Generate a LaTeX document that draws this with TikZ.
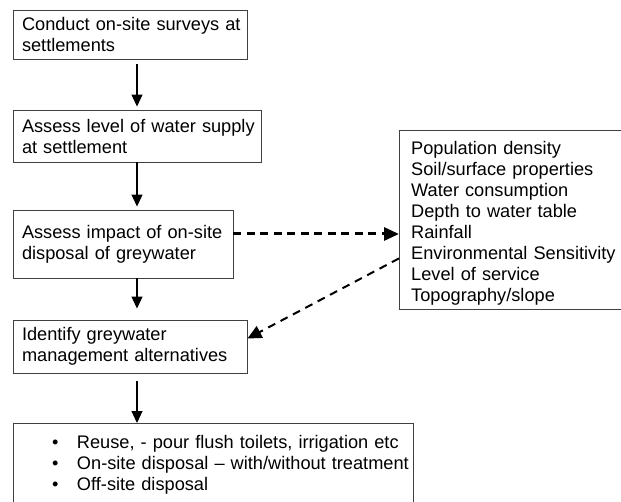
\documentclass[tikz,border=0pt]{standalone}
\usepackage{fontspec}
\setmainfont{Liberation Sans}
\usetikzlibrary{arrows.meta, calc}

\tikzset{
    stepbox/.style={draw=black!75, line width=0.9pt, align=left, inner xsep=9pt, inner ysep=0pt},
    flow/.style={-{Triangle[length=12pt,width=11pt]}, line width=1.1pt},
    boldlink/.style={-{Triangle[length=15pt,width=13pt]}, line width=3pt, dash pattern=on 8pt off 5.5pt},
    thinlink/.style={-{Triangle[length=14pt,width=13pt]}, line width=2pt, dash pattern=on 8pt off 6pt}
}

\begin{document}
\begin{tikzpicture}[x=1pt, y=-1pt, font=\fontsize{18.2}{21}\selectfont]
    % Fix the page size
    \useasboundingbox (0,0) rectangle (621,502);

    % Main steps on the left
    \node[stepbox, text width=216pt, minimum height=49pt] (survey) at (130,34.5)
        {\mbox{Conduct on-site surveys at}\\\mbox{settlements}};
    \node[stepbox, text width=230pt, minimum height=52pt] (supply) at (137,136)
        {\mbox{Assess level of water supply}\\\mbox{at settlement}};
    \node[stepbox, text width=202pt, minimum height=68pt] (impact) at (123,244)
        {\mbox{Assess impact of on-site}\\\mbox{disposal of greywater}};
    \node[stepbox, text width=216pt, minimum height=53pt] (identify) at (130,346.5)
        {\mbox{Identify greywater}\\\mbox{management alternatives}};

    % Box with the alternatives (runs off the page at the bottom)
    \node[stepbox, anchor=north, text width=400pt, inner xsep=0pt, inner ysep=11.4pt] (options) at (213,423)
        {\hspace*{39pt}\makebox[25pt][l]{\textbullet}Reuse, - pour flush toilets, irrigation etc\\
         \hspace*{39pt}\makebox[25pt][l]{\textbullet}On-site disposal – with/without treatment\\
         \hspace*{39pt}\makebox[25pt][l]{\textbullet}Off-site disposal};

    % Box with the factors (runs off the page at the right)
    \node[stepbox, anchor=north west, minimum width=240pt, minimum height=179.3pt] (factors) at (399,130) {};
    \node[anchor=north west, align=left, text width=220pt, inner xsep=12pt, inner ysep=11.2pt] (flist) at (factors.north west)
        {Population density\\
         Soil/surface properties\\
         Water consumption\\
         Depth to water table\\
         Rainfall\\
         Environmental Sensitivity\\
         Level of service\\
         Topography/slope};

    % Arrows down the left column
    \draw[flow, shorten <=5pt, shorten >=3pt] (survey.south -| supply.north) -- (supply.north);
    \draw[flow, shorten >=3pt] (supply.south) -- (impact.north -| supply.south);
    \draw[flow, shorten >=11pt] (impact.south -| supply.south) -- (identify.north -| supply.south);
    \draw[flow, shorten <=8pt] (identify.south -| supply.south) -- (options.north -| supply.south);

    % Dashed links to and from the factors
    \coordinate (out) at ([yshift=10pt]impact.east);
    \draw[boldlink] (out) -- (out -| factors.west);
    \coordinate (back) at ([yshift=-38.3pt]factors.west);
    \coordinate (into) at ([yshift=8pt]identify.east);
    \draw[thinlink] (back) -- (into);
\end{tikzpicture}
\end{document}
